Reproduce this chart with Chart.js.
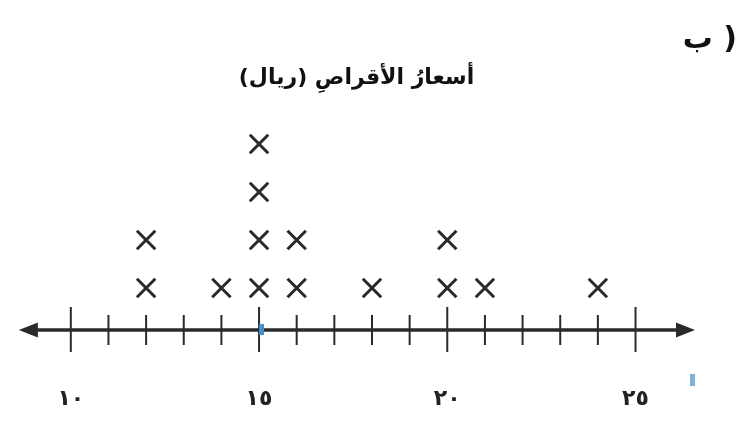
<!DOCTYPE html>
<html>
<head>
<meta charset="utf-8">
<script src="https://cdn.jsdelivr.net/npm/chart.js@4.4.1/dist/chart.umd.min.js"></script>
<style>
  html, body { margin:0; padding:0; background:#fff; }
  #wrap { width:755px; height:426px; }
</style>
</head>
<body>
<div id="wrap"><canvas id="chart" dir="rtl"></canvas></div>
<script>
// الأسعار (ريال) – كل قيمة = علامة X
const prices = [12, 12, 14, 15, 15, 15, 15, 16, 16, 18, 20, 20, 21, 24];
const tickValues = [10,11,12,13,14,15,16,17,18,19,20,21,22,23,24,25];
const tickLabels = { 10:'١٠', 15:'١٥', 20:'٢٠', 25:'٢٥' };
const chartTitle = 'أسعارُ الأقراصِ (ريال)';
const partLabel = 'ب )';
const axisMin = 8.62, axisMax = 26.58;

// stack identical values
const counts = {};
const points = prices.map(p => {
  counts[p] = (counts[p] || 0) + 1;
  return { x: p, y: counts[p] };
});

const INK = '#2a2a2a';

const numberLine = {
  id: 'numberLine',
  beforeDatasetsDraw(chart) {
    const { ctx } = chart;
    const sx = chart.scales.x, sy = chart.scales.y;
    const y0 = sy.getPixelForValue(sy.min);
    const xl = sx.getPixelForValue(axisMin), xr = sx.getPixelForValue(axisMax);
    ctx.save();
    // main line
    ctx.strokeStyle = INK; ctx.lineWidth = 3.5;
    ctx.beginPath(); ctx.moveTo(xl + 10, y0); ctx.lineTo(xr - 10, y0); ctx.stroke();
    // arrow heads
    ctx.fillStyle = INK;
    ctx.beginPath(); ctx.moveTo(xl, y0); ctx.lineTo(xl + 19, y0 - 7.5); ctx.lineTo(xl + 19, y0 + 7.5); ctx.closePath(); ctx.fill();
    ctx.beginPath(); ctx.moveTo(xr, y0); ctx.lineTo(xr - 19, y0 - 7.5); ctx.lineTo(xr - 19, y0 + 7.5); ctx.closePath(); ctx.fill();
    // ticks
    ctx.lineWidth = 2;
    tickValues.forEach(v => {
      const x = sx.getPixelForValue(v);
      const major = v % 5 === 0;
      ctx.beginPath();
      ctx.moveTo(x, y0 - (major ? 23 : 15));
      ctx.lineTo(x, y0 + (major ? 22 : 15));
      ctx.stroke();
    });
    // scan specks
    ctx.fillStyle = '#4a90c8';
    ctx.fillRect(sx.getPixelForValue(15), y0 - 6, 5, 11);
    ctx.fillStyle = '#7fb3dc';
    ctx.fillRect(xr - 5, y0 + 44, 5, 12);
    // part label
    ctx.direction = 'ltr';
    ctx.fillStyle = '#111';
    ctx.font = 'bold 30px "DejaVu Sans"';
    ctx.textAlign = 'right';
    ctx.textBaseline = 'middle';
    ctx.fillText(partLabel, 737, 40);
    ctx.restore();
  }
};

new Chart(document.getElementById('chart'), {
  type: 'scatter',
  data: {
    datasets: [{
      data: points,
      pointStyle: 'crossRot',
      radius: 13,
      hoverRadius: 13,
      borderWidth: 3,
      borderColor: INK,
      backgroundColor: INK
    }]
  },
  options: {
    responsive: true,
    maintainAspectRatio: false,
    animation: false,
    layout: { padding: { left: 18, right: 60, top: 0, bottom: 0 } },
    plugins: {
      legend: { display: false },
      tooltip: { enabled: false },
      title: {
        display: true,
        text: chartTitle,
        color: '#111',
        font: { family: '"DejaVu Sans"', size: 22, weight: 'bold', lineHeight: 1.2 },
        padding: { top: 65, bottom: 28.6 }
      }
    },
    scales: {
      x: {
        type: 'linear',
        min: axisMin,
        max: axisMax,
        afterBuildTicks: s => { s.ticks = tickValues.map(v => ({ value: v })); },
        afterFit: s => { s.height = 96; },
        grid: { display: false, drawTicks: false },
        border: { display: false },
        ticks: {
          autoSkip: false,
          maxRotation: 0,
          padding: 56,
          color: '#222',
          font: { family: '"DejaVu Sans"', size: 22, weight: 'bold' },
          callback: v => tickLabels[v] || ''
        }
      },
      y: {
        display: false,
        min: 0.125,
        max: 4.5
      }
    }
  },
  plugins: [numberLine]
});
</script>
</body>
</html>
